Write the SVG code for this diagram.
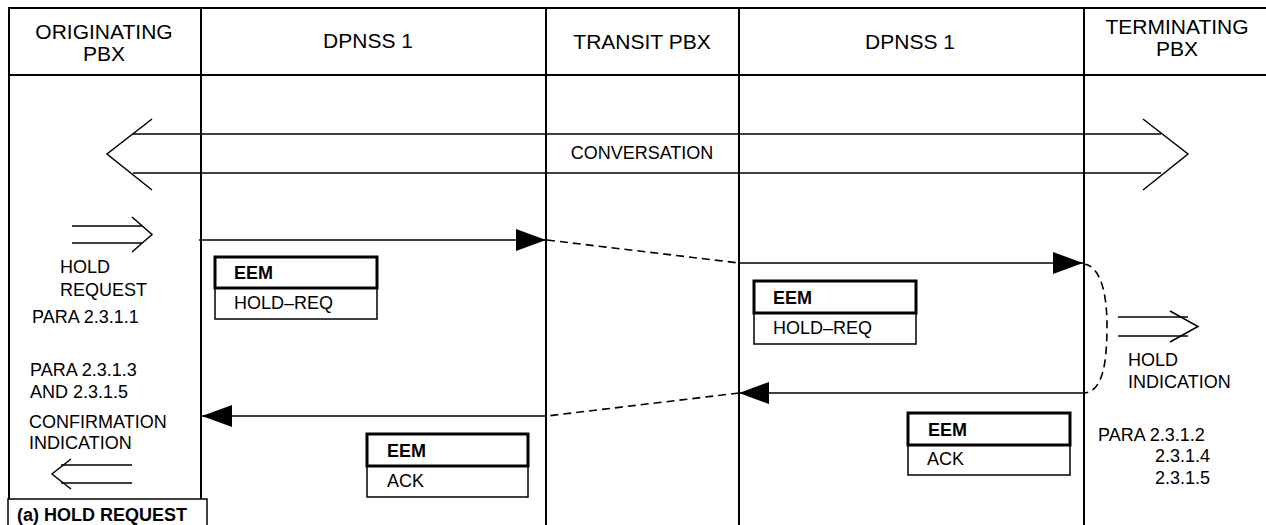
<svg xmlns="http://www.w3.org/2000/svg" width="1266" height="525" viewBox="0 0 1266 525">
<style>
  text { font-family: "Liberation Sans", Arial, sans-serif; fill: #000; }
  .hdr { font-size: 21px; text-anchor: middle; }
  .lbl { font-size: 18px; }
  .b { font-weight: bold; }
  .frame { stroke: #000; stroke-width: 2; fill: none; }
  .ln { stroke: #000; stroke-width: 1.5; fill: none; }
  .dash { stroke: #000; stroke-width: 1.6; fill: none; stroke-dasharray: 8 5; }
  .boxTop { stroke: #000; stroke-width: 3; fill: #fff; }
  .boxBot { stroke: #000; stroke-width: 1.5; fill: #fff; }
</style>
<defs>
  <marker id="ah" markerUnits="userSpaceOnUse" markerWidth="30" markerHeight="22" refX="30" refY="11" orient="auto">
    <path d="M0,0 L30,11 L0,22 z" fill="#000"/>
  </marker>
</defs>
<rect width="1266" height="525" fill="#fff"/>

<g id="frame">
  <line class="frame" x1="8" y1="8" x2="1266" y2="8"/>
  <line class="frame" x1="8" y1="75" x2="1266" y2="75"/>
  <line class="frame" x1="9" y1="8" x2="9" y2="499"/>
  <line class="frame" x1="201" y1="8" x2="201" y2="499"/>
  <line class="frame" x1="546" y1="8" x2="546" y2="525"/>
  <line class="frame" x1="739" y1="8" x2="739" y2="525"/>
  <line class="frame" x1="1084" y1="8" x2="1084" y2="525"/>
</g>

<g id="headers">
  <g id="h-orig"><text class="hdr" x="104" y="39">ORIGINATING</text><text class="hdr" x="104" y="61">PBX</text></g>
  <g id="h-dpnss1"><text class="hdr" x="368" y="48">DPNSS 1</text></g>
  <g id="h-transit"><text class="hdr" x="642" y="49">TRANSIT PBX</text></g>
  <g id="h-dpnss2"><text class="hdr" x="910" y="49">DPNSS 1</text></g>
  <g id="h-term"><text class="hdr" x="1177" y="34">TERMINATING</text><text class="hdr" x="1177" y="56">PBX</text></g>
</g>

<g id="conversation">
  <line class="ln" x1="133" y1="134" x2="1161" y2="134"/>
  <line class="ln" x1="133" y1="173" x2="1161" y2="173"/>
  <polyline class="ln" points="152,119 107,154 152,190"/>
  <polyline class="ln" points="1143,119 1188,154 1143,190"/>
  <text class="lbl" x="642" y="159" text-anchor="middle">CONVERSATION</text>
</g>

<g id="connectors">
  <line class="ln" x1="199" y1="240" x2="546" y2="240" marker-end="url(#ah)"/>
  <line class="dash" x1="547" y1="240" x2="739" y2="263"/>
  <line class="ln" x1="739" y1="263" x2="1083" y2="263" marker-end="url(#ah)"/>
  <path class="dash" d="M1084,264 C1100,266 1107,292 1107,326 C1107,362 1103,392 1084,393"/>
  <line class="ln" x1="1084" y1="393" x2="739" y2="393" marker-end="url(#ah)"/>
  <line class="dash" x1="739" y1="393" x2="547" y2="416"/>
  <line class="ln" x1="546" y1="416" x2="202" y2="416" marker-end="url(#ah)"/>
</g>

<g id="hold-request-signal">
  <line class="ln" x1="72" y1="226" x2="142" y2="226"/>
  <line class="ln" x1="72" y1="243" x2="142" y2="243"/>
  <polyline class="ln" points="132,217 152,234.5 132,252"/>
  <text class="lbl" x="60" y="273">HOLD</text>
  <text class="lbl" x="60" y="296">REQUEST</text>
  <text class="lbl" x="32" y="323">PARA 2.3.1.1</text>
</g>

<g id="confirmation-signal">
  <text class="lbl" x="30" y="376">PARA 2.3.1.3</text>
  <text class="lbl" x="30" y="398">AND 2.3.1.5</text>
  <text class="lbl" x="29" y="428">CONFIRMATION</text>
  <text class="lbl" x="29" y="449">INDICATION</text>
  <line class="ln" x1="61" y1="465" x2="132" y2="465"/>
  <line class="ln" x1="61" y1="483" x2="132" y2="483"/>
  <polyline class="ln" points="71,459 52,474 71,489"/>
</g>

<g id="hold-indication-signal">
  <line class="ln" x1="1118" y1="317" x2="1188" y2="317"/>
  <line class="ln" x1="1118" y1="336" x2="1188" y2="336"/>
  <polyline class="ln" points="1170,311 1198,326.5 1170,342"/>
  <text class="lbl" x="1128" y="366">HOLD</text>
  <text class="lbl" x="1128" y="388">INDICATION</text>
  <text class="lbl" x="1098" y="441">PARA 2.3.1.2</text>
  <text class="lbl" x="1155" y="462">2.3.1.4</text>
  <text class="lbl" x="1155" y="484">2.3.1.5</text>
</g>

<g id="eem-holdreq-1">
  <rect class="boxBot" x="215" y="288" width="162" height="31"/>
  <rect class="boxTop" x="215" y="257" width="162" height="31"/>
  <text class="lbl b" x="234" y="279">EEM</text>
  <text class="lbl" x="234" y="309">HOLD–REQ</text>
</g>

<g id="eem-holdreq-2">
  <rect class="boxBot" x="754" y="313" width="162" height="31"/>
  <rect class="boxTop" x="754" y="281" width="162" height="32"/>
  <text class="lbl b" x="773" y="304">EEM</text>
  <text class="lbl" x="773" y="334">HOLD–REQ</text>
</g>

<g id="eem-ack-1">
  <rect class="boxBot" x="367" y="466" width="161" height="31"/>
  <rect class="boxTop" x="367" y="434" width="161" height="32"/>
  <text class="lbl b" x="387" y="457">EEM</text>
  <text class="lbl" x="387" y="487">ACK</text>
</g>

<g id="eem-ack-2">
  <rect class="boxBot" x="908" y="445" width="162" height="30"/>
  <rect class="boxTop" x="908" y="413" width="162" height="32"/>
  <text class="lbl b" x="928" y="436">EEM</text>
  <text class="lbl" x="927" y="465">ACK</text>
</g>

<g id="caption">
  <rect x="8" y="499" width="199" height="40" fill="#fff" stroke="#000" stroke-width="1.5"/>
  <text class="lbl b" x="17" y="521">(a) HOLD REQUEST</text>
</g>
</svg>
